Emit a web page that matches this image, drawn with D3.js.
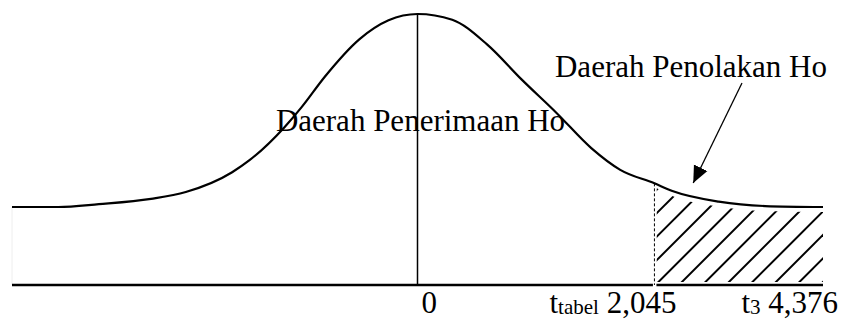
<!DOCTYPE html>
<html>
<head>
<meta charset="utf-8">
<script src="https://cdn.jsdelivr.net/npm/d3@7"></script>
<style>
  html, body { margin: 0; padding: 0; background: #fff; }
</style>
</head>
<body>
<svg id="chart" width="844" height="320"></svg>
<script>
'use strict';

// curve: t (in sd units) and density above the tail level
var curveT = [-3.5, -3.1, -2.75, -2.3, -2.0, -1.6, -1.45, -1.15, -1.0, -0.8, -0.5, -0.25, 0,
              0.3, 0.6, 0.9, 1.2, 1.5, 1.75, 2.045, 2.2, 2.6, 3.0, 3.5];
var curveD = [0, 0.000, 0.006, 0.017, 0.031, 0.072, 0.097, 0.165, 0.207, 0.270, 0.348, 0.387, 0.400,
              0.388, 0.337, 0.264, 0.195, 0.122, 0.077, 0.049, 0.033, 0.011, 0.002, 0];

var tickValues = [0, 2.045, 4.376];
var tickNames = ["", "t", "t"];
var tickSubs = ["", "tabel", "3"];
var tickLabels = ["0", "2,045", "4,376"];

var tCritical = 2.045;
var acceptLabel = "Daerah Penerimaan Ho";
var rejectLabel = "Daerah Penolakan Ho";

var FONT = "'Liberation Serif', 'Times New Roman', Times, 'DejaVu Serif', serif";

function D3_TDistribution(vSelector)
{
	var svg = d3.select(vSelector);
	var nAxisY = 285;

	var x = d3.scaleLinear().domain([-3.5, 3.5]).range([12, 823]).clamp(true);
	var y = d3.scaleLinear().domain([0, 0.4]).range([207, 14]);

	var aPts = curveT.map((t, i) => [t, curveD[i]]);
	var aTail = aPts.filter(p => p[0] >= tCritical);

	var line = d3.line()
		.x(d => x(d[0]))
		.y(d => y(d[1]))
		.curve(d3.curveMonotoneX);

	var defs = svg.append("defs");

	// hatch clip: rejection area, pulled in a little from its borders
	var clipArea = d3.area()
		.x(d => x(d[0]))
		.y0(nAxisY - 3)
		.y1(d => y(d[1]) + 5)
		.curve(d3.curveMonotoneX);

	defs.append("clipPath").attr("id", "tailclip")
		.append("path")
		.attr("d", clipArea(aTail.map((p, i) => i == 0 ? [p[0] + 0.02, p[1]] : p)));

	defs.append("marker")
		.attr("id", "arrowhead")
		.attr("markerUnits", "userSpaceOnUse")
		.attr("viewBox", "0 -8 17 16")
		.attr("markerWidth", 17)
		.attr("markerHeight", 16)
		.attr("refX", 17)
		.attr("refY", 0)
		.attr("orient", "auto")
		.append("path")
		.attr("d", "M0,-7.5L17,0L0,7.5Z")
		.attr("fill", "#000");

	// faint left border
	svg.append("line")
		.attr("x1", x(-3.5)).attr("x2", x(-3.5))
		.attr("y1", y(0)).attr("y2", nAxisY)
		.attr("stroke", "#eee").attr("stroke-width", 1);

	// hatching
	var xc = x(tCritical);
	var hatch = svg.append("g").attr("clip-path", "url(#tailclip)");
	var nStep = 23.5;
	for (var bx = xc + 1 - nStep * 5; bx < x(3.5) + 10; bx += nStep)
	{
		hatch.append("line")
			.attr("x1", bx).attr("y1", nAxisY)
			.attr("x2", bx + 120).attr("y2", nAxisY - 120)
			.attr("stroke", "#000")
			.attr("stroke-width", 2);
	}

	// axis line with a small gap at the critical value
	svg.append("line")
		.attr("x1", x(-3.5)).attr("x2", xc - 1.5)
		.attr("y1", nAxisY).attr("y2", nAxisY)
		.attr("stroke", "#000").attr("stroke-width", 2.5);
	svg.append("line")
		.attr("x1", xc + 2).attr("x2", x(3.5))
		.attr("y1", nAxisY).attr("y2", nAxisY)
		.attr("stroke", "#000").attr("stroke-width", 2.5);

	// centre line
	svg.append("line")
		.attr("x1", x(0)).attr("x2", x(0))
		.attr("y1", y(0.4)).attr("y2", nAxisY)
		.attr("stroke", "#000").attr("stroke-width", 1.5);

	// dashed critical line
	svg.append("line")
		.attr("x1", xc).attr("x2", xc)
		.attr("y1", y(0.049)).attr("y2", nAxisY)
		.attr("stroke", "#000").attr("stroke-width", 1)
		.attr("stroke-dasharray", "3,2");

	// the curve
	svg.append("path")
		.attr("d", line(aPts))
		.attr("fill", "none")
		.attr("stroke", "#000")
		.attr("stroke-width", 2.2);

	// labels
	svg.append("text")
		.attr("x", x(0) + 3).attr("y", 131)
		.attr("text-anchor", "middle")
		.attr("font-family", FONT)
		.attr("font-size", 31)
		.text(acceptLabel);

	svg.append("text")
		.attr("x", x(3.5) + 4).attr("y", 77)
		.attr("text-anchor", "end")
		.attr("font-family", FONT)
		.attr("font-size", 31)
		.text(rejectLabel);

	svg.append("line")
		.attr("x1", 742).attr("y1", 83)
		.attr("x2", x(2.38)).attr("y2", 183)
		.attr("stroke", "#000").attr("stroke-width", 1.3)
		.attr("marker-end", "url(#arrowhead)");

	// tick labels
	tickValues.forEach(function(v, i)
	{
		var t = svg.append("text")
			.attr("y", 313)
			.attr("font-family", FONT)
			.attr("font-size", 31);
		if (i == 0)
		{
			t.attr("x", x(v) + 4).text(tickLabels[i]);
			return;
		}
		t.attr("x", x(v) + (v > 3.5 ? 15 : 22)).attr("text-anchor", "end");
		t.append("tspan").text(tickNames[i]);
		t.append("tspan").attr("font-size", 21).attr("dy", 1).text(tickSubs[i]);
		t.append("tspan").attr("dy", -1).text("\u00a0" + tickLabels[i]);
	});
}

D3_TDistribution("#chart");
</script>
</body>
</html>
